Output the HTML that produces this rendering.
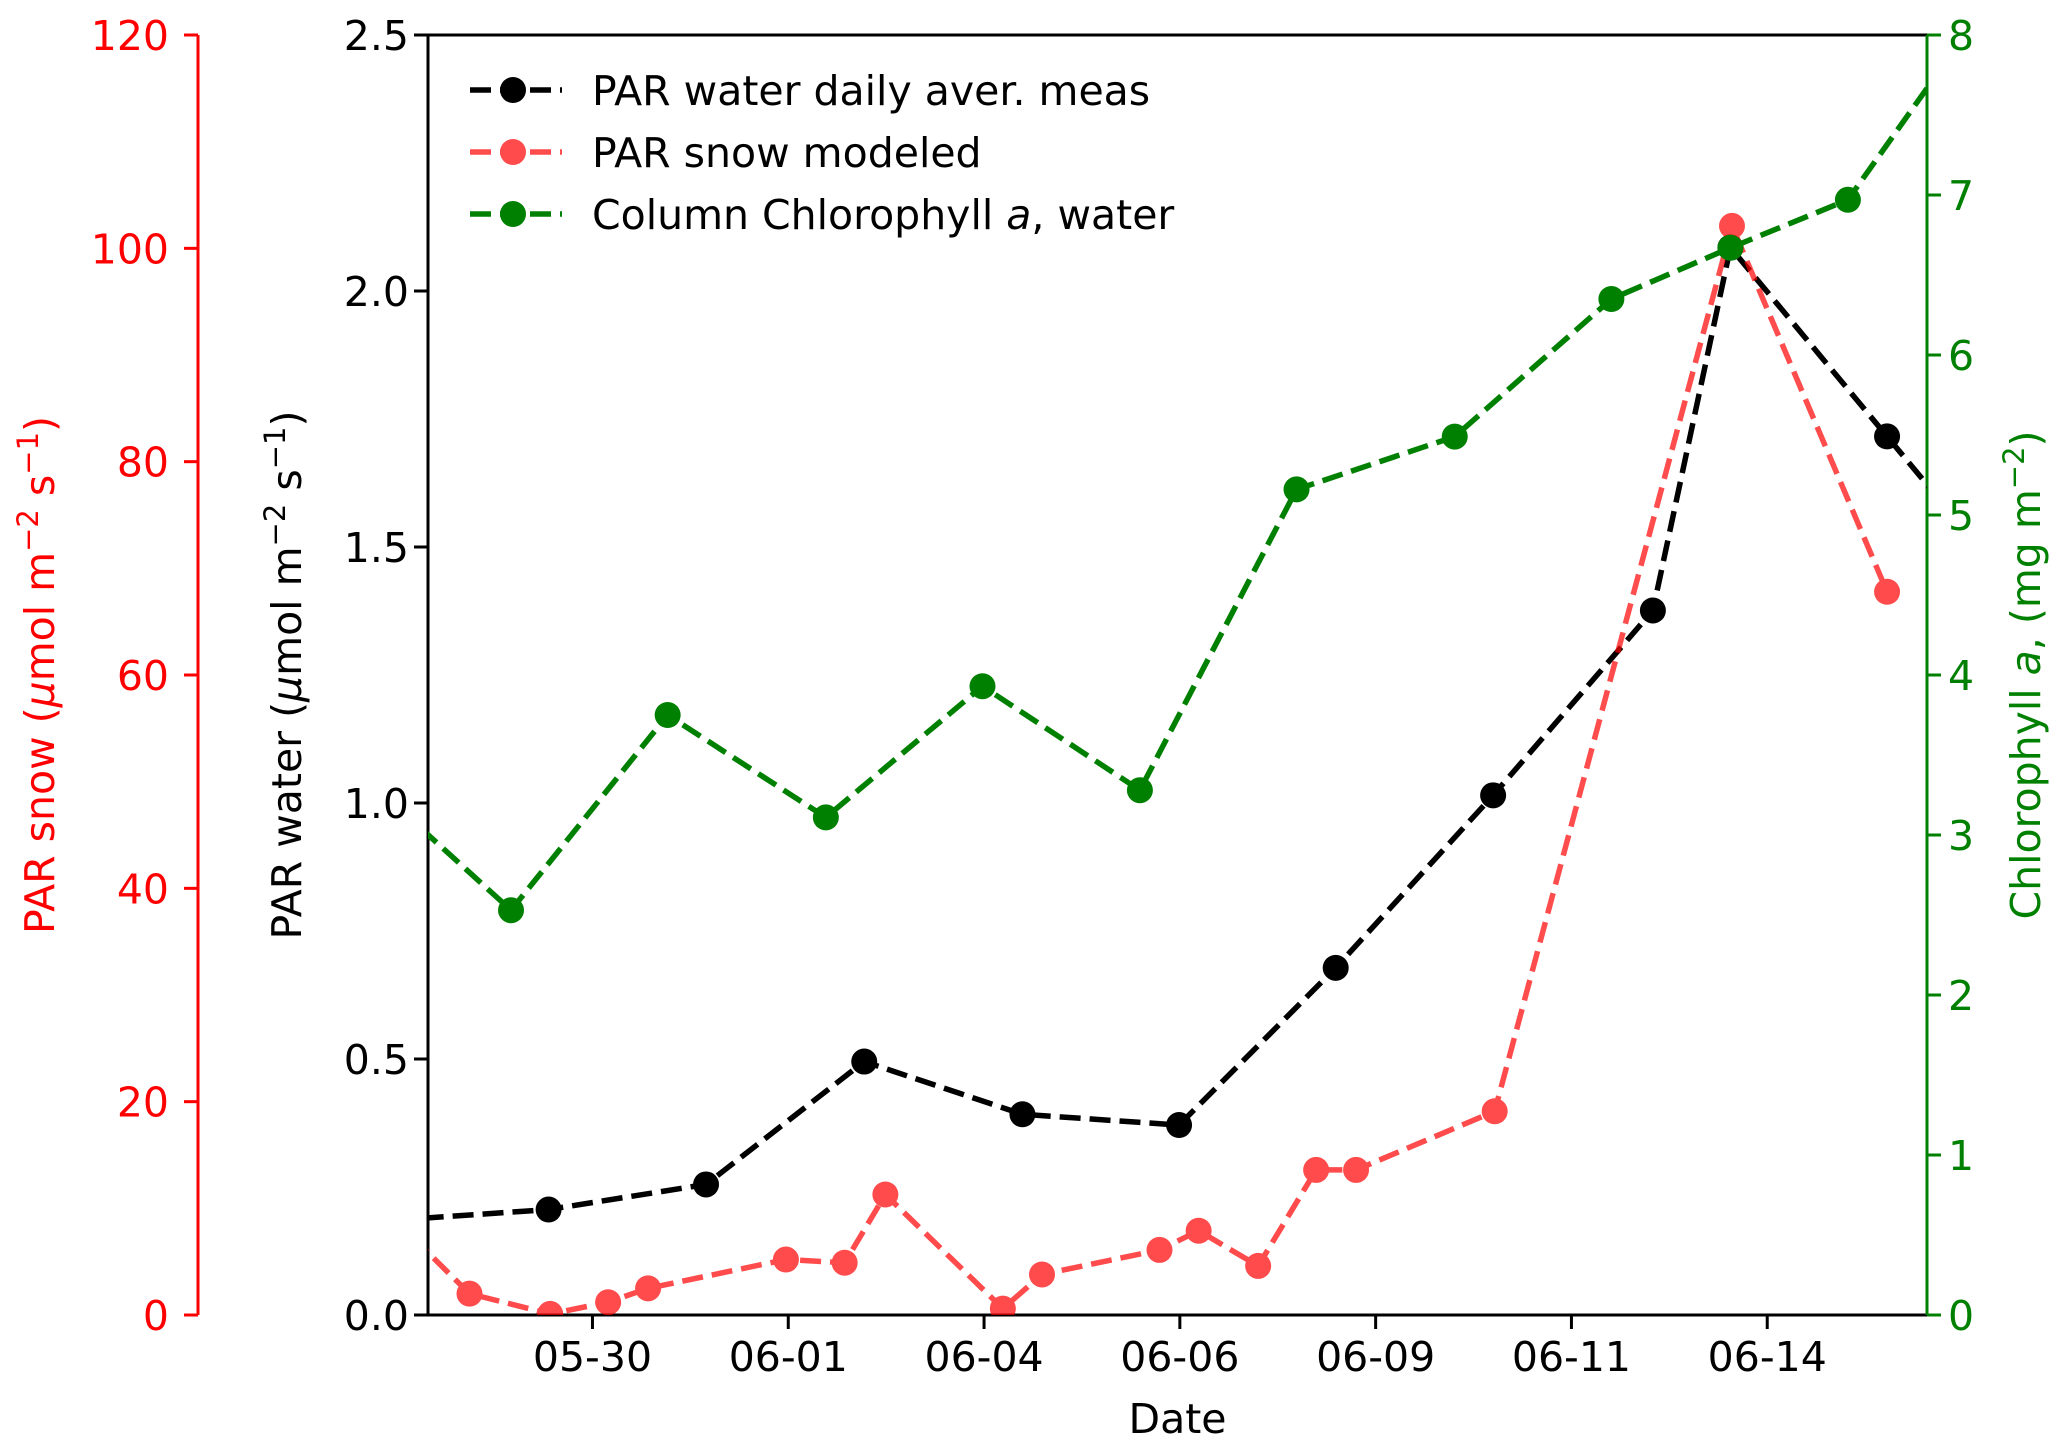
<!DOCTYPE html>
<html><head><meta charset="utf-8"><style>
html,body{margin:0;padding:0;background:#fff;}
svg{display:block;font-family:"DejaVu Sans","Liberation Sans",sans-serif;}
</style></head><body>
<svg id="chart" width="2067" height="1454" viewBox="0 0 2067 1454">
<defs><clipPath id="plotclip"><rect x="428" y="35" width="1499" height="1280"/></clipPath></defs>
<g id="axes"></g>
<g id="series" clip-path="url(#plotclip)"></g>
<g id="legend"></g>
</svg>
<script>
const xTickDays=[0,2.5,5,7.5,10,12.5,15];
const xTickLabels=["05-30","06-01","06-04","06-06","06-09","06-11","06-14"];
const leftTicks=[0,0.5,1.0,1.5,2.0,2.5];
const leftTickLabels=["0.0","0.5","1.0","1.5","2.0","2.5"];
const snowTicks=[0,20,40,60,80,100,120];
const chlTicks=[0,1,2,3,4,5,6,7,8];
const waterDays=[-2.55,-0.56,1.45,3.47,5.49,7.49,9.49,11.5,13.54,14.53,16.53,17.54];
const waterVals=[0.185,0.206,0.255,0.495,0.392,0.371,0.678,1.015,1.376,2.085,1.716,1.53];
const snowDays=[-2.3,-1.57,-0.54,0.2,0.71,2.47,3.22,3.74,5.24,5.74,7.24,7.74,8.5,9.24,9.75,11.52,14.55,16.53];
const snowVals=[7.3,2.0,0.1,1.2,2.5,5.2,4.9,11.3,0.6,3.8,6.1,7.9,4.6,13.6,13.6,19.1,102.1,67.8];
const chlDays=[-3.04,-1.04,0.96,2.98,4.98,6.99,8.99,11.01,13.01,14.53,16.03,18.0];
const chlVals=[3.42,2.53,3.75,3.11,3.93,3.28,5.16,5.49,6.35,6.67,6.97,8.33];

const L=428,R=1927,T=35,B=1315;
const xmin=-2.1,xmax=17.04;
const X=d=>L+(d-xmin)/(xmax-xmin)*(R-L);
const Yw=v=>B-v/2.5*(B-T);
const Ys=v=>B-v/120*(B-T);
const Yc=v=>B-v/8*(B-T);
const NS="http://www.w3.org/2000/svg";
function mk(tag,attrs,parent,text){const e=document.createElementNS(NS,tag);for(const k in attrs)e.setAttribute(k,attrs[k]);if(text!==undefined)e.textContent=text;parent.appendChild(e);return e;}
const axes=document.getElementById('axes'),ser=document.getElementById('series'),leg=document.getElementById('legend');
const FS=41;

let e;
e=mk('line',{x1:L,y1:T,x2:L,y2:B,stroke:'#000','stroke-width':3},axes);


e=mk('line',{x1:L,y1:B,x2:R,y2:B,stroke:'#000','stroke-width':3},axes);


e=mk('line',{x1:L,y1:T,x2:R,y2:T,stroke:'#000','stroke-width':3},axes);


e=mk('line',{x1:R,y1:T,x2:R,y2:B,stroke:'#008000','stroke-width':3},axes);


e=mk('line',{x1:198,y1:T,x2:198,y2:B,stroke:'#ff0000','stroke-width':3},axes);



xTickDays.forEach((d,i)=>{
  const x=X(d);
  mk('line',{x1:x,y1:B,x2:x,y2:B+14,stroke:'#000','stroke-width':3},axes);
  e=mk('text',{x:x,y:B+56,'font-size':FS,'text-anchor':'middle',fill:'#000'},axes,xTickLabels[i]);
  
  
});
leftTicks.forEach((v,i)=>{
  const y=Yw(v);
  mk('line',{x1:L-14,y1:y,x2:L,y2:y,stroke:'#000','stroke-width':3},axes);
  e=mk('text',{x:L-19,y:y+15,'font-size':FS,'text-anchor':'end',fill:'#000'},axes,leftTickLabels[i]);
  
  
});
snowTicks.forEach(v=>{
  const y=Ys(v);
  mk('line',{x1:184,y1:y,x2:198,y2:y,stroke:'#ff0000','stroke-width':3},axes);
  e=mk('text',{x:169,y:y+15,'font-size':FS,'text-anchor':'end',fill:'#ff0000'},axes,String(v));
  
  
});
chlTicks.forEach(v=>{
  const y=Yc(v);
  mk('line',{x1:R,y1:y,x2:R+14,y2:y,stroke:'#008000','stroke-width':3},axes);
  e=mk('text',{x:R+21,y:y+15,'font-size':FS,'text-anchor':'start',fill:'#008000'},axes,String(v));
  
  
});

e=mk('text',{x:(L+R)/2,y:1433,'font-size':FS,'text-anchor':'middle',fill:'#000'},axes,'Date');


e=mk('text',{x:0,y:0,'font-size':FS,'text-anchor':'middle',fill:'#000',transform:'translate(301,675) rotate(-90)'},axes);
e.innerHTML='PAR water (<tspan font-style="italic">μ</tspan>mol m<tspan dy="-16" font-size="29">−2</tspan><tspan dy="16"> s</tspan><tspan dy="-16" font-size="29">−1</tspan><tspan dy="16">)</tspan>';


e=mk('text',{x:0,y:0,'font-size':FS,'text-anchor':'middle',fill:'#ff0000',transform:'translate(54,675) rotate(-90)'},axes);
e.innerHTML='PAR snow (<tspan font-style="italic">μ</tspan>mol m<tspan dy="-16" font-size="29">−2</tspan><tspan dy="16"> s</tspan><tspan dy="-16" font-size="29">−1</tspan><tspan dy="16">)</tspan>';


e=mk('text',{x:0,y:0,'font-size':FS,'text-anchor':'middle',fill:'#008000',transform:'translate(2040,675) rotate(-90)'},axes);
e.innerHTML='Chlorophyll <tspan font-style="italic">a</tspan>, (mg m<tspan dy="-16" font-size="29">−2</tspan><tspan dy="16">)</tspan>';



function series(days,vals,Y,color,op,name){
  const g=mk('g',{opacity:op},ser);
  
  
  const pts=days.map((d,i)=>X(d)+','+Y(vals[i])).join(' ');
  mk('polyline',{points:pts,fill:'none',stroke:color,'stroke-width':5.5,'stroke-dasharray':'21 9'},g);
  days.forEach((d,i)=>{
    const c=mk('circle',{cx:X(d),cy:Y(vals[i]),r:13,fill:color},g);
    
    
  });
}
series(waterDays,waterVals,Yw,'#000',1,'par-water-series');
series(snowDays,snowVals,Ys,'#ff0000',0.7,'par-snow-series');
series(chlDays,chlVals,Yc,'#008000',1,'chlorophyll-series');

const legItems=[['#000',1,'PAR water daily aver. meas'],['#ff0000',0.7,'PAR snow modeled'],['#008000',1,null]];
legItems.forEach((it,i)=>{
  const y=90+i*62;
  const g=mk('g',{},leg);
  
  
  const s=mk('g',{opacity:it[1]},g);
  mk('line',{x1:470,y1:y,x2:562,y2:y,stroke:it[0],'stroke-width':5.5,'stroke-dasharray':'21 9'},s);
  mk('circle',{cx:513,cy:y,r:13,fill:it[0]},s);
  const t=mk('text',{x:592,y:y+15,'font-size':FS,fill:'#000'},g);
  if(it[2])t.textContent=it[2];
  else t.innerHTML='Column Chlorophyll <tspan font-style="italic">a</tspan>, water';
});
</script>
</body></html>
